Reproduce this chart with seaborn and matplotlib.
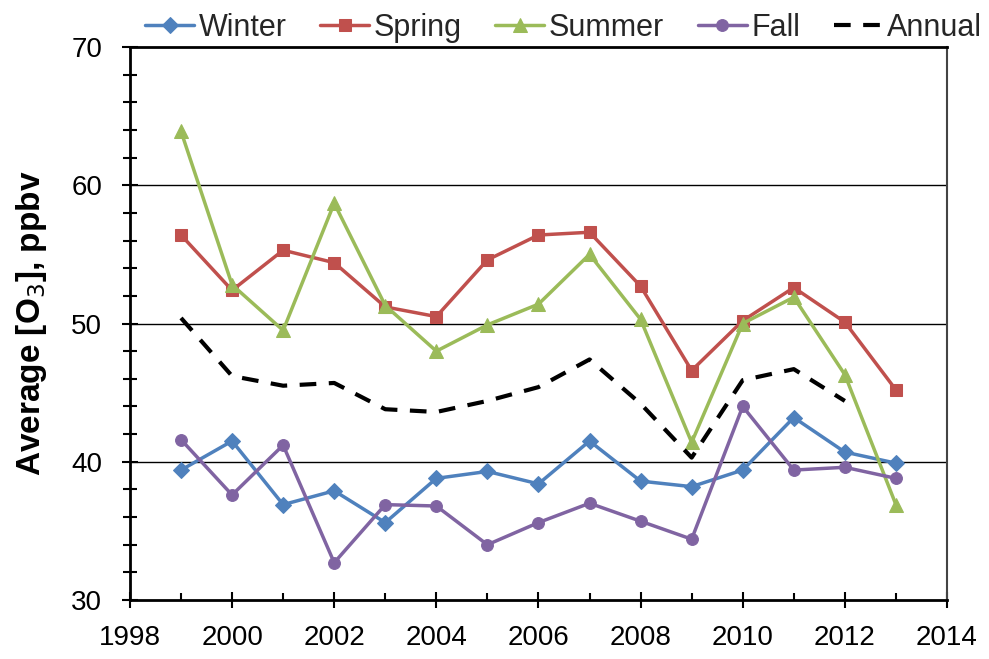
import matplotlib
matplotlib.use("Agg")
import matplotlib.pyplot as plt
import seaborn as sns
import numpy as np
import pandas as pd
from matplotlib.ticker import MultipleLocator

years = list(range(1999, 2014))
winter = [39.4, 41.5, 36.9, 37.9, 35.6, 38.8, 39.3, 38.4, 41.5, 38.6, 38.2, 39.4, 43.2, 40.7, 39.9]
spring = [56.4, 52.4, 55.3, 54.4, 51.2, 50.5, 54.6, 56.4, 56.6, 52.7, 46.6, 50.2, 52.6, 50.1, 45.2]
summer = [63.9, 52.8, 49.5, 58.7, 51.3, 48.0, 49.9, 51.4, 55.0, 50.3, 41.4, 50.0, 51.9, 46.3, 36.9]
fall = [41.6, 37.6, 41.2, 32.7, 36.9, 36.8, 34.0, 35.6, 37.0, 35.7, 34.4, 44.0, 39.4, 39.6, 38.8]
annual = [50.4, 46.2, 45.5, 45.7, 43.8, 43.6, 44.4, 45.4, 47.4, 44.2, 40.3, 45.9, 46.7, 44.4, np.nan]

sns.set_theme(style="white")
plt.rcParams['font.family'] = ['Liberation Sans', 'DejaVu Sans']

fig = plt.figure(figsize=(9.89, 6.59), dpi=100)
ax = fig.add_axes([0.1314, 0.0895, 0.8261, 0.8392])

series = [
    ("Winter", winter, "#4F81BD", "D", 8, "-"),
    ("Spring", spring, "#C0504D", "s", 8.5, "-"),
    ("Summer", summer, "#9BBB59", "^", 10, "-"),
    ("Fall", fall, "#8064A2", "o", 8.5, "-"),
]
for name, vals, col, mk, ms, ls in series:
    df = pd.DataFrame({"year": years, "val": vals})
    sns.lineplot(data=df, x="year", y="val", ax=ax, color=col, marker=mk,
                 markersize=ms, markeredgecolor=col, linewidth=2.5, label=name)

dfa = pd.DataFrame({"year": years, "val": annual}).dropna()
sns.lineplot(data=dfa, x="year", y="val", ax=ax, color="black", linewidth=3,
             label="Annual")
ax.lines[-1].set_dashes([4, 3])

ax.set_xlim(1998, 2014)
ax.set_ylim(30, 70)
ax.xaxis.set_major_locator(MultipleLocator(2))
ax.xaxis.set_minor_locator(MultipleLocator(1))
ax.yaxis.set_major_locator(MultipleLocator(10))
ax.yaxis.set_minor_locator(MultipleLocator(2))
ax.tick_params(axis="x", which="major", labelsize=20, direction="inout",
               length=12, width=1.5, color="black", pad=12, bottom=True)
ax.tick_params(axis="y", which="major", labelsize=20, direction="inout",
               length=12, width=1.5, color="black", pad=14, left=True)
ax.tick_params(axis="y", which="minor", direction="inout", length=10, width=1.5,
               color="black", left=True)
ax.tick_params(axis="x", which="minor", direction="in", length=5, width=1.5,
               color="black", bottom=True)
for lab in ax.get_xticklabels() + ax.get_yticklabels():
    lab.set_color("black")

for y in [40, 50, 60]:
    ax.axhline(y, color="black", linewidth=1, zorder=0)

for s in ["left", "bottom", "top"]:
    ax.spines[s].set_color("black")
    ax.spines[s].set_linewidth(2)
ax.spines["right"].set_color("#444444")
ax.spines["right"].set_linewidth(1.5)

ax.set_xlabel("")
ax.set_ylabel("Average [O$_3$], ppbv", fontsize=24, fontweight="bold", color="black", labelpad=16)

leg = ax.legend(loc="lower right", bbox_to_anchor=(1.043, 1.008), ncol=5, frameon=False,
                fontsize=22, handlelength=1.6, handletextpad=0.15, columnspacing=1.1,
                borderaxespad=0, borderpad=0)

fig.savefig("out.png", dpi=100)
